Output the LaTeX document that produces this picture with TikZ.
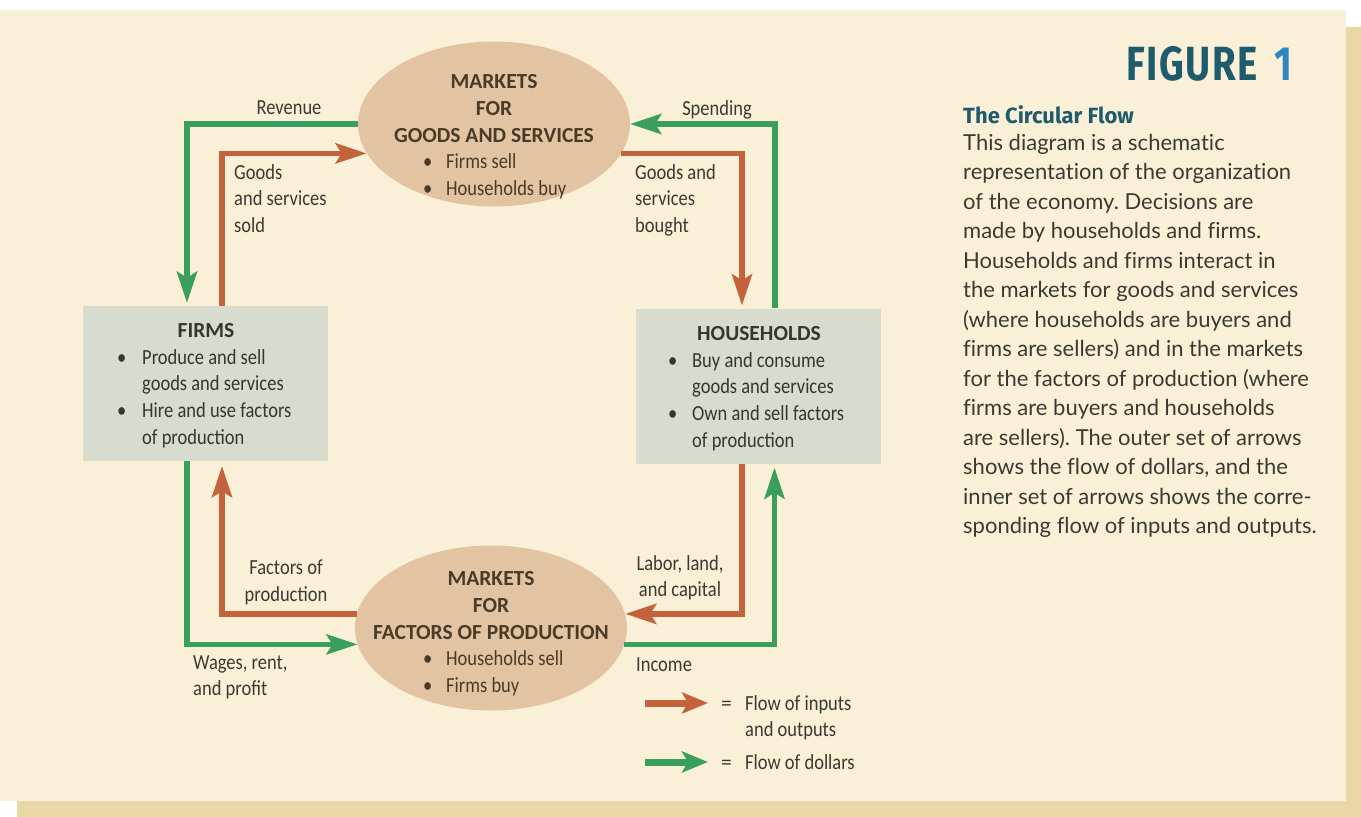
\documentclass[tikz,border=0pt]{standalone}
\usepackage{fontspec}
\setmainfont{Carlito}[FakeStretch=0.86]
\newfontfamily\headsans{Carlito}
\newfontfamily\bodyfont{Lato}[Ligatures=NoCommon]
\newfontfamily\figfont{Fira Sans}[FakeStretch=0.8]
\newfontfamily\titlefont{Fira Sans}
\usetikzlibrary{shapes.geometric,arrows.meta,calc}
\definecolor{panel}{HTML}{FAF0D8}
\definecolor{shadowc}{HTML}{EAD7A6}
\definecolor{ellfill}{HTML}{E2C4A3}
\definecolor{boxfill}{HTML}{D8DCCF}
\definecolor{grn}{HTML}{3A9E5F}
\definecolor{org}{HTML}{C4623B}
\definecolor{txt}{HTML}{3B3A30}
\definecolor{elltxt}{HTML}{4A3B27}
\definecolor{boxtxt}{HTML}{2F3A30}
\definecolor{teal}{HTML}{1E5B6C}
\definecolor{figblue}{HTML}{2D86C2}
\newcommand{\bul}[1]{\makebox[#1][l]{\textbullet}}
\newcommand{\eqsign}{\makebox[24pt][l]{{\headsans =}}}
\frenchspacing
\begin{document}
\begin{tikzpicture}[x=1pt,y=-1pt,
  lbl/.style={font=\fontsize{21.5}{26.8}\selectfont, text=txt, inner sep=0pt},
  ellhead/.style={font=\headsans\bfseries\fontsize{21.5}{27}\selectfont, text=elltxt, inner sep=0pt, align=center},
  ellbul/.style={font=\fontsize{21.5}{27}\selectfont, text=elltxt, inner sep=0pt, align=left},
  boxhead/.style={font=\headsans\bfseries\fontsize{21.5}{26.8}\selectfont, text=boxtxt, inner sep=0pt},
  boxbul/.style={font=\fontsize{21.5}{26.7}\selectfont, text=boxtxt, inner sep=0pt, align=left},
  market/.style={ellipse, fill=ellfill, minimum width=272pt, minimum height=165pt, inner sep=0pt},
  agent/.style={rectangle, fill=boxfill, minimum width=245pt, minimum height=155pt, inner sep=0pt},
  flowg/.style={draw=grn, line width=5.5pt, -{Stealth[length=31pt,width=20pt,inset=6pt]}},
  flowo/.style={draw=org, line width=5.5pt, -{Stealth[length=31pt,width=20pt,inset=6pt]}},
  legg/.style={draw=grn, line width=7pt, -{Stealth[length=26pt,width=21pt,inset=6pt]}},
  lego/.style={draw=org, line width=7pt, -{Stealth[length=26pt,width=21pt,inset=6pt]}}
]
\useasboundingbox (0,0) rectangle (1361,817);
\fill[white] (0,0) rectangle (1361,817);
\fill[shadowc] (17,27) rectangle (1361,817);
\fill[panel] (0,10) rectangle (1346,801);

% nodes
\node[market] (gms) at (494,124) {};
\node[market] (fms) at (491,628) {};
\node[agent] (firms) at (205.5,383.5) {};
\node[agent] (hh) at (758.5,386) {};

% connectors: outer (dollars)
\draw[flowg] (gms.west) -| ([xshift=-18.5pt,yshift=3pt]firms.north);
\draw[flowg] ([xshift=16.5pt]hh.north) |- (gms.east);
\draw[flowg] ([xshift=-18.5pt]firms.south) |- (fms.187.5);
\draw[flowg] (fms.-7.5) -| ([xshift=16pt,yshift=-4pt]hh.south);
% connectors: inner (inputs and outputs)
\draw[flowo] ([xshift=16.5pt]firms.north) |- (gms.193.5);
\draw[flowo] (gms.-13.5) -| ([xshift=-16.5pt,yshift=3pt]hh.north);
\draw[flowo] ([xshift=-16.5pt]hh.south) |- (fms.6);
\draw[flowo] (fms.174) -| ([xshift=16.5pt,yshift=-5pt]firms.south);

% ellipse texts
\node[ellhead, anchor=north] (gmsh) at (494,74) {MARKETS\\FOR\\GOODS AND SERVICES};
\node[ellbul, anchor=north west] (gmsb) at (423,153) {\bul{23pt}Firms sell\\\bul{23pt}Households buy};
\node[ellhead, anchor=north] (fmsh) at (491,571) {MARKETS\\FOR\\FACTORS OF PRODUCTION};
\node[ellbul, anchor=north west] (fmsb) at (423,650) {\bul{23pt}Households sell\\\bul{23pt}Firms buy};

% box texts
\node[boxhead, anchor=north] (firmsh) at (206,323) {FIRMS};
\node[boxbul, anchor=north west] (firmsb) at (117,349) {\bul{25pt}Produce and sell\\\hspace*{25pt}goods and services\\\bul{25pt}Hire and use factors\\\hspace*{25pt}of production};
\node[boxhead, anchor=north] (hhh) at (759,326) {HOUSEHOLDS};
\node[boxbul, anchor=north west] (hhb) at (668,352) {\bul{24pt}Buy and consume\\\hspace*{24pt}goods and services\\\bul{24pt}Own and sell factors\\\hspace*{24pt}of production};

% flow labels
\node[lbl, anchor=base] (rev) at (289,114) {Revenue};
\node[lbl, anchor=base] (spend) at (717,115) {Spending};
\node[lbl, anchor=north west, align=left] (gsold) at (234,164) {Goods\\and services\\sold};
\node[lbl, anchor=north west, align=left] (gbought) at (635,164) {Goods and\\services\\bought};
\node[lbl, anchor=north, align=center] (fop) at (286,560) {Factors of\\production};
\node[lbl, anchor=north, align=center] (llc) at (680,555) {Labor, land,\\and capital};
\node[lbl, anchor=north west, align=left] (wages) at (193,655) {Wages, rent,\\and profit};
\node[lbl, anchor=base west] (income) at (636,671) {Income};

% legend
\coordinate (lo1) at (645,703);
\coordinate (lo2) at (708,703);
\coordinate (lg1) at (645,762);
\coordinate (lg2) at (708,762);
\draw[lego] (lo1) -- (lo2);
\draw[legg] (lg1) -- (lg2);
\node[lbl, anchor=north west, align=left] (legio) at (721,695) {\eqsign Flow of inputs\\\hspace*{24pt}and outputs};
\node[lbl, anchor=north west] (legd) at (721,754) {\eqsign Flow of dollars};

% right column
\node[anchor=base east, inner sep=0pt, font=\figfont\bfseries\fontsize{48}{48}\selectfont, text=teal] (fig) at (1293,80) {F\hspace{1.6pt}I\hspace{1.6pt}G\hspace{1.6pt}U\hspace{1.6pt}R\hspace{1.6pt}E\hspace{17pt}\textcolor{figblue}{1}};
\node[anchor=base west, inner sep=0pt, font=\titlefont\bfseries\fontsize{22}{24}\selectfont, text=teal] (title) at (963,123) {The Circular Flow};
\node[anchor=north west, inner sep=0pt, align=left, font=\bodyfont\fontsize{22}{29.5}\selectfont, text=txt] (body) at (963,134) {This diagram is a schematic\\representation of the organization\\of the economy. Decisions are\\made by households and firms.\\Households and firms interact in\\the markets for goods and services\\(where households are buyers and\\firms are sellers) and in the markets\\for the factors of production (where\\firms are buyers and households\\are sellers). The outer set of arrows\\shows the flow of dollars, and the\\inner set of arrows shows the corre-\\sponding flow of inputs and outputs.};
\end{tikzpicture}
\end{document}
